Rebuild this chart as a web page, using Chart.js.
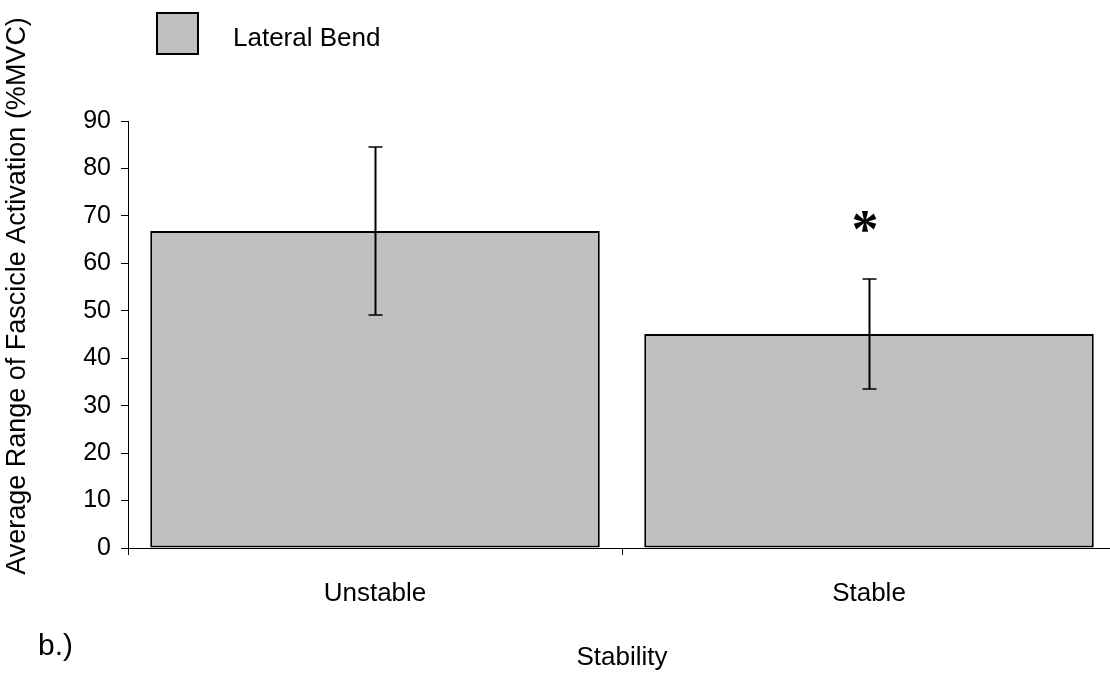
<!DOCTYPE html>
<html>
<head>
<meta charset="utf-8">
<script src="https://cdn.jsdelivr.net/npm/chart.js@4"></script>
<style>
  html, body { margin: 0; padding: 0; overflow: hidden; background: #fff; }
</style>
</head>
<body>
<canvas id="chart" width="1116" height="673"></canvas>
<script>
const categories = ['Unstable', 'Stable'];
const seriesLabel = 'Lateral Bend';
const means = [66.8, 45.1];
const errors = [17.7, 11.6];
const significance = [null, 68.8];
const yMin = 0;
const yMax = 90;
const yStep = 10;
const xTitle = 'Stability';
const yTitle = 'Average Range of Fascicle Activation (%MVC)';
const panelLabel = 'b.)';

const fontFamily = '"Liberation Sans", Arial, sans-serif';
Chart.defaults.font.family = fontFamily;
Chart.defaults.color = '#000';

// error bars, significance mark, legend and loose labels
const annotations = {
  id: 'annotations',
  afterDatasetsDraw(chart) {
    const { ctx } = chart;
    const xs = chart.scales.x;
    const ys = chart.scales.y;
    ctx.save();
    ctx.strokeStyle = '#000';
    ctx.fillStyle = '#000';

    means.forEach((m, i) => {
      const cx = Math.round(xs.getPixelForValue(i)) + 0.5;
      const top = Math.round(ys.getPixelForValue(m + errors[i]));
      const bot = Math.round(ys.getPixelForValue(m - errors[i]));
      ctx.lineWidth = 2;
      ctx.beginPath();
      ctx.moveTo(cx, top);
      ctx.lineTo(cx, bot);
      ctx.stroke();
      ctx.lineWidth = 1.5;
      ctx.beginPath();
      ctx.moveTo(cx - 7, top);
      ctx.lineTo(cx + 7, top);
      ctx.moveTo(cx - 7, bot);
      ctx.lineTo(cx + 7, bot);
      ctx.stroke();
    });

    significance.forEach((v, i) => {
      if (v === null) return;
      ctx.font = 'bold 54px "Liberation Serif", serif';
      ctx.textAlign = 'left';
      ctx.textBaseline = 'alphabetic';
      const m = ctx.measureText('*');
      const w = m.actualBoundingBoxLeft + m.actualBoundingBoxRight;
      const cx = xs.getPixelForValue(i) - 4;
      const cy = ys.getPixelForValue(v);
      ctx.fillText('*', cx - w / 2 + m.actualBoundingBoxLeft,
        cy + (m.actualBoundingBoxAscent - m.actualBoundingBoxDescent) / 2);
    });

    // legend
    const ds = chart.data.datasets[0];
    ctx.fillStyle = ds.backgroundColor;
    ctx.fillRect(157, 13, 41, 41);
    ctx.lineWidth = 2;
    ctx.strokeRect(157, 13, 41, 41);
    ctx.fillStyle = '#000';
    ctx.font = '26px ' + fontFamily;
    ctx.textAlign = 'left';
    ctx.textBaseline = 'middle';
    ctx.fillText(ds.label, 233, 39);

    // y title
    ctx.save();
    ctx.translate(18, 296);
    ctx.rotate(-Math.PI / 2);
    ctx.textAlign = 'center';
    ctx.textBaseline = 'middle';
    ctx.font = '27px ' + fontFamily;
    ctx.fillText(yTitle, 0, 0);
    ctx.restore();

    // panel label
    ctx.font = '30px ' + fontFamily;
    ctx.textAlign = 'left';
    ctx.textBaseline = 'alphabetic';
    ctx.fillText(panelLabel, 38, 655);

    ctx.restore();
  },
};

new Chart(document.getElementById('chart'), {
  type: 'bar',
  data: {
    labels: categories,
    datasets: [{
      label: seriesLabel,
      data: means,
      backgroundColor: '#c0c0c0',
      borderColor: '#000',
      borderWidth: 2,
      borderSkipped: false,
      barPercentage: 0.91,
      categoryPercentage: 1,
    }],
  },
  options: {
    responsive: false,
    animation: false,
    layout: { padding: { top: 121, left: 0, right: 0, bottom: 0 } },
    plugins: {
      legend: { display: false },
      tooltip: { enabled: false },
    },
    scales: {
      x: {
        grid: {
          display: true, drawOnChartArea: false, drawTicks: true,
          tickLength: 7, color: '#000', offset: true,
        },
        border: { display: true, color: '#000', width: 1 },
        ticks: { color: '#000', font: { size: 26 }, padding: 23 },
        title: {
          display: true, text: xTitle, color: '#000',
          font: { size: 26 }, padding: { top: 0, bottom: 0 },
        },
        afterFit(scale) { scale.height = 125; },
      },
      y: {
        min: yMin,
        max: yMax,
        grid: {
          display: true, drawOnChartArea: false, drawTicks: true,
          tickLength: 7, color: '#000',
        },
        border: { display: true, color: '#000', width: 1 },
        ticks: { stepSize: yStep, color: '#000', font: { size: 25 }, padding: 10 },
        afterFit(scale) { scale.width = 128; },
      },
    },
  },
  plugins: [annotations],
});
</script>
</body>
</html>
